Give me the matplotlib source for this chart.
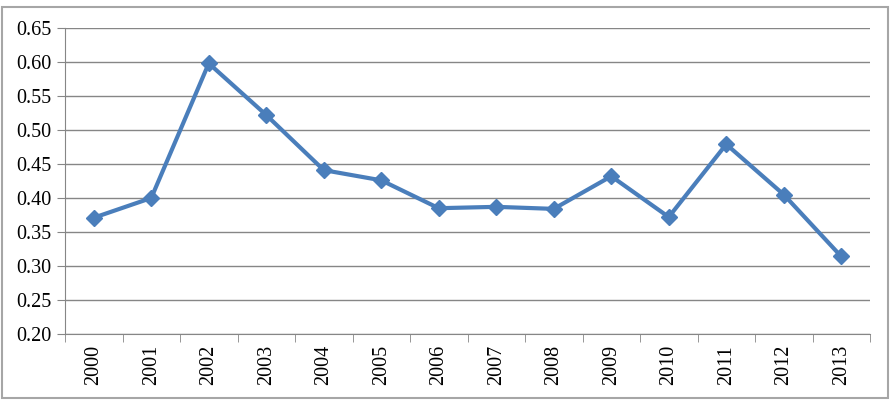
import matplotlib.pyplot as plt
from matplotlib.patches import Rectangle

years = ['2000', '2001', '2002', '2003', '2004', '2005', '2006',
         '2007', '2008', '2009', '2010', '2011', '2012', '2013']
values = [0.371, 0.400, 0.598, 0.522, 0.441, 0.426, 0.385,
          0.387, 0.384, 0.432, 0.372, 0.479, 0.405, 0.314]
y_ticks = [0.20, 0.25, 0.30, 0.35, 0.40, 0.45, 0.50, 0.55, 0.60, 0.65]

plt.rcParams['font.family'] = ['Liberation Serif', 'DejaVu Serif']

fig = plt.figure(figsize=(8.9, 4.0), dpi=100)
ax = fig.add_axes([65 / 890, 66 / 400, 805 / 890, 306 / 400])

# frame around the whole chart
fig.patches.append(Rectangle((2 / 890, 2 / 400), 886 / 890, 391 / 400,
                             transform=fig.transFigure, fill=False,
                             edgecolor='#a6a6a6', linewidth=1.5))

x = list(range(len(years)))
ax.plot(x, values, color='#4a7ebb', linewidth=3, marker='D',
        markersize=8.5, markerfacecolor='#4a7ebb', markeredgecolor='#4a7ebb',
        zorder=3)

ax.set_xlim(-0.5, len(years) - 0.5)
ax.set_ylim(0.20, 0.65)
ax.set_yticks(y_ticks)
ax.set_yticklabels([f'{v:.2f}' for v in y_ticks], fontsize=14.5)
ax.set_xticks(x)
ax.set_xticklabels(years, rotation=90, fontsize=14.5)
ax.set_xticks([i - 0.5 for i in range(len(years) + 1)], minor=True)
ax.tick_params(axis='x', which='major', length=0, pad=8)
ax.tick_params(axis='x', which='minor', length=6, color='#868686', direction='out')
ax.tick_params(axis='y', length=6, color='#868686', direction='out', pad=4)

ax.grid(axis='y', color='#868686', linewidth=1)
ax.set_axisbelow(True)
for side in ['top', 'right']:
    ax.spines[side].set_visible(False)
ax.spines['left'].set_color('#868686')
ax.spines['bottom'].set_color('#868686')

fig.savefig('out.png', dpi=100)
